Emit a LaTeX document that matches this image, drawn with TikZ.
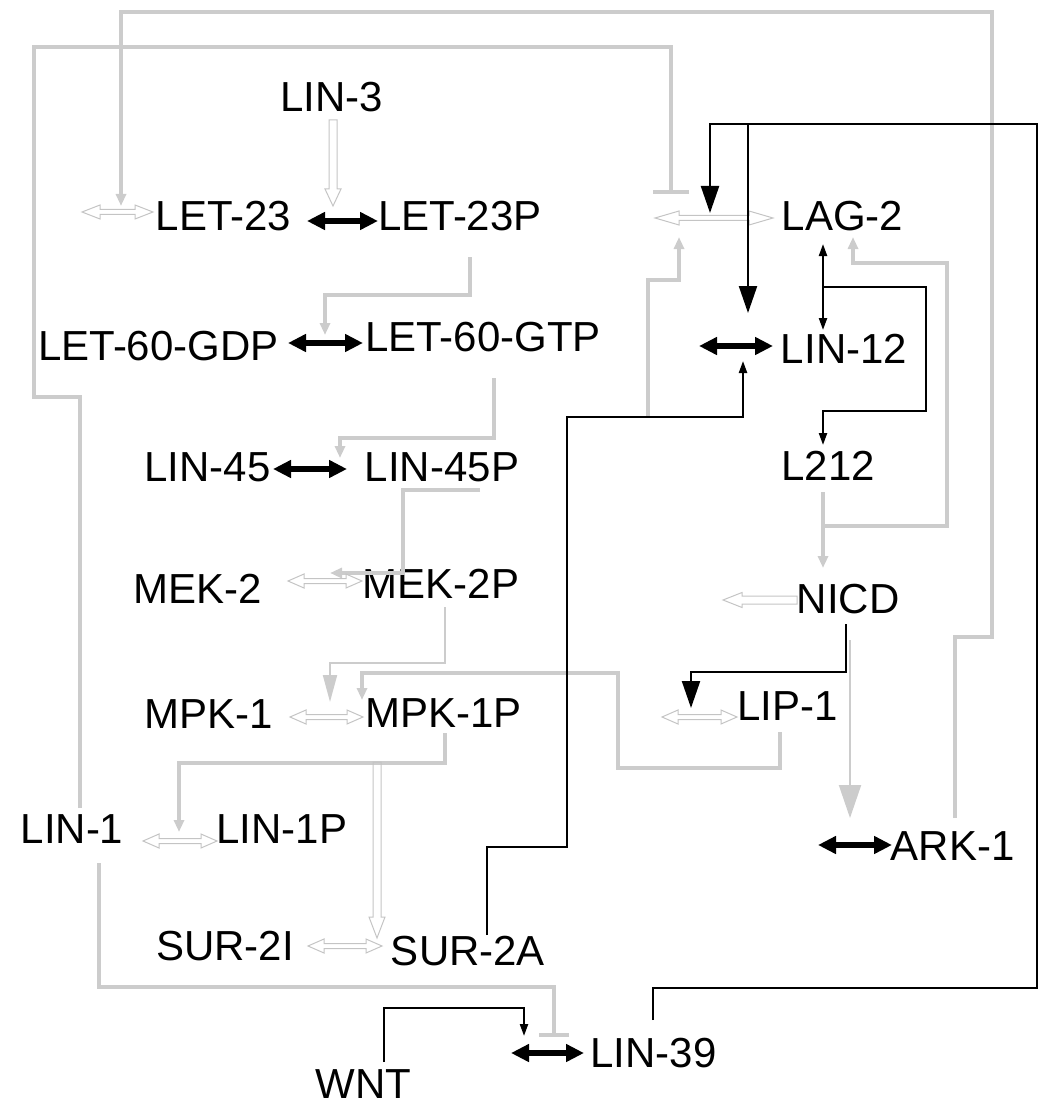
\documentclass[tikz,border=0pt]{standalone}
\usepackage{fontspec}
\setmainfont{Liberation Sans}
\usetikzlibrary{arrows.meta}
\definecolor{lg}{RGB}{204,204,204}
\definecolor{lgo}{RGB}{196,196,196}
% hollow double-headed horizontal arrow: [head length]{x1}{x2}{y}
\newcommand\hdbl[4][16]{\draw[hol] (#2,#4) -- (#2+#1,#4-7) -- (#2+#1,#4-2.5) -- (#3-#1,#4-2.5) -- (#3-#1,#4-7) -- (#3,#4) -- (#3-#1,#4+7) -- (#3-#1,#4+2.5) -- (#2+#1,#4+2.5) -- (#2+#1,#4+7) -- cycle;}
% hollow single arrow pointing down: {x}{y1}{y2}{head length}
\newcommand\hdown[4]{\draw[hol] (#1-4,#2) -- (#1-4,#3-#4) -- (#1-8,#3-#4) -- (#1,#3) -- (#1+8,#3-#4) -- (#1+4,#3-#4) -- (#1+4,#2) -- cycle;}
% hollow single arrow pointing left: {x tail}{x tip}{y}{head length}
\newcommand\hleft[4]{\draw[hol] (#1,#3-4) -- (#2+#4,#3-4) -- (#2+#4,#3-7.5) -- (#2,#3) -- (#2+#4,#3+7.5) -- (#2+#4,#3+4) -- (#1,#3+4) -- cycle;}
\begin{document}
\begin{tikzpicture}[x=1pt,y=-1pt,
  lbl/.style={font=\fontsize{42}{48}\selectfont, inner sep=0pt, anchor=base},
  gline/.style={draw=lg, line width=4pt},
  gthin/.style={draw=lg, line width=2pt},
  bline/.style={draw=black, line width=2.2pt},
  gsm/.style={-{Triangle[length=12pt,width=10pt]}},
  gbig/.style={-{Triangle[length=#1pt,width=14pt]}},
  bsm/.style={-{Triangle[length=12pt,width=8pt]}},
  bbig/.style={-{Triangle[length=27pt,width=18pt]}},
  rx/.style={draw=black, line width=6pt, {Triangle[length=18pt,width=17pt]}-{Triangle[length=18pt,width=17pt]}},
  hol/.style={draw=lgo, line width=1pt},
]
\useasboundingbox (0,0) rectangle (1039,1107);

% ---------------- labels ----------------
\node[lbl] (LIN3)   at (331.5,112) {LIN-3};
\node[lbl] (LET23)  at (223.5,230) {LET-23};
\node[lbl] (LET23P) at (460,230) {LET-23P};
\node[lbl] (GDP)    at (158.5,360) {LET-60-GDP};
\node[lbl] (GTP)    at (483,351) {LET-60-GTP};
\node[lbl] (LIN45)  at (207.5,481) {LIN-45};
\node[lbl] (LIN45P) at (442,481) {LIN-45P};
\node[lbl] (MEK2)   at (197.5,603) {MEK-2};
\node[lbl] (MEK2P)  at (441,598) {MEK-2P};
\node[lbl] (MPK1)   at (208.5,728) {MPK-1};
\node[lbl] (MPK1P)  at (443.5,727) {MPK-1P};
\node[lbl] (LIN1)   at (72,843) {LIN-1};
\node[lbl] (LIN1P)  at (282,843) {LIN-1P};
\node[lbl] (SUR2I)  at (225,960) {SUR-2I};
\node[lbl] (SUR2A)  at (468,965) {SUR-2A};
\node[lbl] (WNT)    at (363.5,1098) {WNT};
\node[lbl] (LIN39)  at (653.5,1067) {LIN-39};
\node[lbl] (LAG2)   at (842.5,230) {LAG-2};
\node[lbl] (LIN12)  at (844,363) {LIN-12};
\node[lbl] (L212)   at (828,480) {L212};
\node[lbl] (NICD)   at (848,613) {NICD};
\node[lbl] (LIP1)   at (787.5,720) {LIP-1};
\node[lbl] (ARK1)   at (952.5,860) {ARK-1};

% ---------------- anchor coordinates ----------------
\coordinate (ark1top)  at (955,818);
\coordinate (deg23)    at (121,206);
\coordinate (lin1top)  at (80,808);
\coordinate (lag2rx)   at (671,194);
\coordinate (let23pb)  at (470,257);
\coordinate (let60rx)  at (325,335);
\coordinate (gtpb)     at (494,378);
\coordinate (lin45rx)  at (340,458);
\coordinate (lin45pb)  at (480,490);
\coordinate (mek2rx)   at (330,573);
\coordinate (mek2pb)   at (445,607);
\coordinate (mpk1rx)   at (330,702);
\coordinate (lip1b)    at (780,732);
\coordinate (mpk1rx2)  at (362,700);
\coordinate (mpk1pb)   at (445,733);
\coordinate (lin1rx)   at (179,832);
\coordinate (lin1b)    at (99,863);
\coordinate (lin39rxT) at (554,1037);
\coordinate (sur2split)at (648,417);
\coordinate (lag2rx2)  at (679,237);
\coordinate (l212b)    at (823,492);
\coordinate (lag2in)   at (853,237);
\coordinate (nicdin)   at (823,568);
\coordinate (nicdb)    at (850,640);
\coordinate (ark1rx)   at (850,818);
\coordinate (lin39top) at (653,1020);
\coordinate (lag2rxB)  at (710,213);
\coordinate (split124) at (748,124);
\coordinate (lin12rx)  at (748,313);
\coordinate (sur2atop) at (487,935);
\coordinate (lin12rxB) at (743,361);
\coordinate (lag2b)    at (823,244);
\coordinate (lin12t)   at (823,330);
\coordinate (cplx)     at (823,287);
\coordinate (l212t)    at (823,445);
\coordinate (nicdb2)   at (846,624);
\coordinate (lip1rx)   at (691,708);
\coordinate (wnttop)   at (384,1062);
\coordinate (lin39rx)  at (524,1036);

% ---------------- gray connectors ----------------
\draw[gline,gsm] (ark1top) -- (955,637) -- (992,637) -- (992,12) -- (121,12) -- (deg23);
\draw[gline,-{Bar[width=36pt]}] (lin1top) -- (80,397) -- (34,397) -- (34,47) -- (671,47) -- (lag2rx);
\draw[gline,gsm] (let23pb) -- (470,295) -- (325,295) -- (let60rx);
\draw[gline,gsm] (gtpb) -- (494,438) -- (340,438) -- (lin45rx);
\draw[gline,gsm] (lin45pb) -- (403,490) -- (403,573) -- (mek2rx);
\draw[gthin,gbig=27] (mek2pb) -- (445,663) -- (330,663) -- (mpk1rx);
\draw[gline,gsm] (lip1b) -- (780,768) -- (618,768) -- (618,673) -- (362,673) -- (mpk1rx2);
\draw[gline,gsm] (mpk1pb) -- (445,763) -- (179,763) -- (lin1rx);
\draw[gline,-{Bar[width=30pt]}] (lin1b) -- (99,987) -- (554,987) -- (lin39rxT);
\draw[gline,gsm] (sur2split) -- (648,280) -- (679,280) -- (lag2rx2);
\draw[gline,gsm] (l212b) -- (823,526) -- (947,526) -- (947,263) -- (853,263) -- (lag2in);
\draw[gline,gsm] (l212b) -- (nicdin);
\draw[gthin,-{Triangle[length=33pt,width=22pt]}] (nicdb) -- (ark1rx);

% ---------------- hollow arrows ----------------
\hdbl[18]{82}{153}{212}
\hdbl[24]{655}{773}{218}
\hdbl{288}{362}{581}
\hdbl{290}{363}{717}
\hdbl{143}{217}{841}
\hdbl{662}{737}{717}
\hdbl{308}{382}{946}
\hdown{333}{120}{206}{17}
\hdown{377}{762}{938}{21}
\hleft{797}{723}{600}{19}

% ---------------- thick reaction arrows ----------------
\draw[rx] (307,221) -- (378,221);
\draw[rx] (288,343) -- (363,343);
\draw[rx] (273,469) -- (347,469);
\draw[rx] (699,346) -- (773,346);
\draw[rx] (511,1053) -- (584,1053);
\draw[rx] (818,845) -- (892,845);

% ---------------- black connectors ----------------
\draw[bline,bbig] (lin39top) -- (653,988) -- (1037,988) -- (1037,124) -- (710,124) -- (lag2rxB);
\draw[bline,bbig] (split124) -- (lin12rx);
\draw[bline,bsm] (sur2atop) -- (487,847) -- (567,847) -- (567,417) -- (743,417) -- (lin12rxB);
\draw[bline,{Triangle[length=12pt,width=8pt]}-{Triangle[length=12pt,width=8pt]}] (lag2b) -- (lin12t);
\draw[bline,bsm] (cplx) -- (926,287) -- (926,411) -- (823,411) -- (l212t);
\draw[bline,bbig] (nicdb2) -- (846,672) -- (691,672) -- (lip1rx);
\draw[bline,bsm] (wnttop) -- (384,1008) -- (524,1008) -- (lin39rx);
\end{tikzpicture}
\end{document}
